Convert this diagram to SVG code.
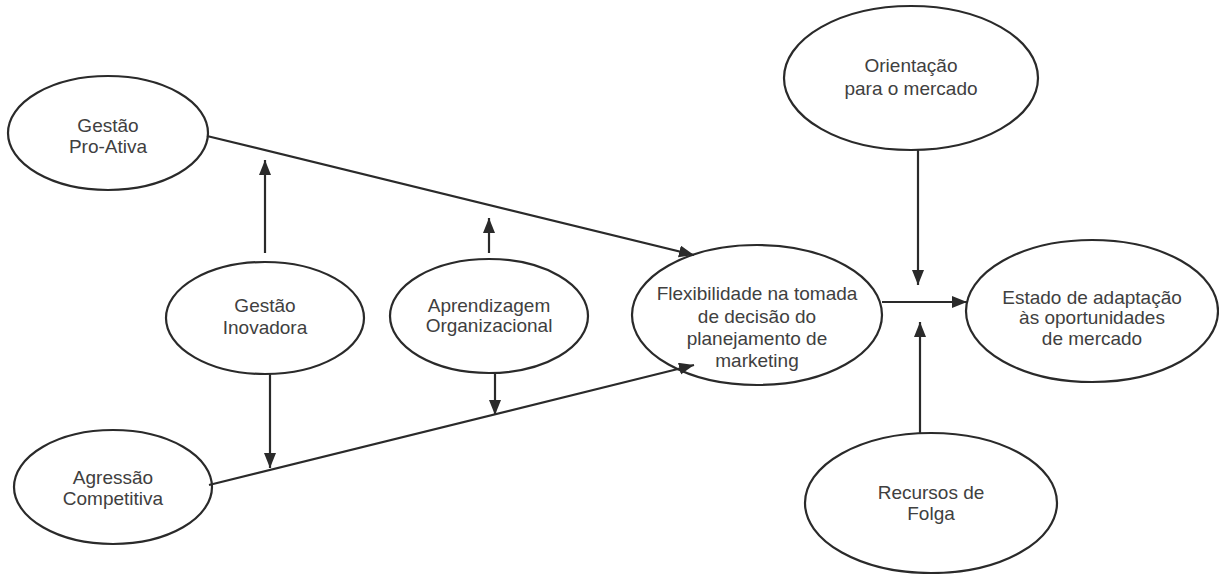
<svg xmlns="http://www.w3.org/2000/svg" width="1219" height="574" viewBox="0 0 1219 574">
<style>
.node ellipse{fill:#fff;stroke:#2a2a2a;stroke-width:2.2}
.node text{font-family:"Liberation Sans",Arial,sans-serif;font-size:19px;fill:#404040;text-anchor:middle}
#connectors line{stroke:#2a2a2a;stroke-width:2.2;marker-end:url(#arr)}
</style>
<defs>
<marker id="arr" markerUnits="userSpaceOnUse" markerWidth="16" markerHeight="14" refX="15" refY="6" orient="auto">
<path d="M0,0 L15,6 L0,12 Z" fill="#2a2a2a"/>
</marker>
</defs>
<rect width="1219" height="574" fill="#fff"/>
<g id="gestao-pro-ativa" class="node">
<ellipse cx="108" cy="133" rx="100" ry="57"/>
<text x="108" y="132">Gestão</text>
<text x="108" y="153">Pro-Ativa</text>
</g>
<g id="gestao-inovadora" class="node">
<ellipse cx="265" cy="318" rx="99" ry="56"/>
<text x="265" y="312">Gestão</text>
<text x="265" y="334">Inovadora</text>
</g>
<g id="aprendizagem" class="node">
<ellipse cx="489" cy="316" rx="99" ry="57"/>
<text x="489" y="312">Aprendizagem</text>
<text x="489" y="332">Organizacional</text>
</g>
<g id="agressao" class="node">
<ellipse cx="113" cy="487" rx="99" ry="57"/>
<text x="113" y="484">Agressão</text>
<text x="113" y="505">Competitiva</text>
</g>
<g id="flexibilidade" class="node">
<ellipse cx="757" cy="315" rx="125" ry="70"/>
<text x="757" y="300">Flexibilidade na tomada</text>
<text x="757" y="323">de decisão do</text>
<text x="757" y="345">planejamento de</text>
<text x="757" y="367">marketing</text>
</g>
<g id="orientacao" class="node">
<ellipse cx="911" cy="78" rx="127" ry="72"/>
<text x="911" y="72">Orientação</text>
<text x="911" y="95">para o mercado</text>
</g>
<g id="estado" class="node">
<ellipse cx="1092" cy="311" rx="126" ry="71"/>
<text x="1092" y="304">Estado de adaptação</text>
<text x="1092" y="324">às oportunidades</text>
<text x="1092" y="345">de mercado</text>
</g>
<g id="recursos" class="node">
<ellipse cx="931" cy="503" rx="126" ry="70"/>
<text x="931" y="499">Recursos de</text>
<text x="931" y="520">Folga</text>
</g>
<g id="connectors">
<line x1="207" y1="136" x2="694" y2="255"/>
<line x1="209" y1="485" x2="694" y2="365"/>
<line x1="265" y1="253" x2="265" y2="160"/>
<line x1="270" y1="374" x2="270" y2="468"/>
<line x1="489" y1="253" x2="489" y2="218"/>
<line x1="495" y1="373" x2="495" y2="415"/>
<line x1="882" y1="302" x2="967" y2="302"/>
<line x1="918" y1="150" x2="918" y2="285"/>
<line x1="920" y1="434" x2="920" y2="322"/>
</g>
</svg>
